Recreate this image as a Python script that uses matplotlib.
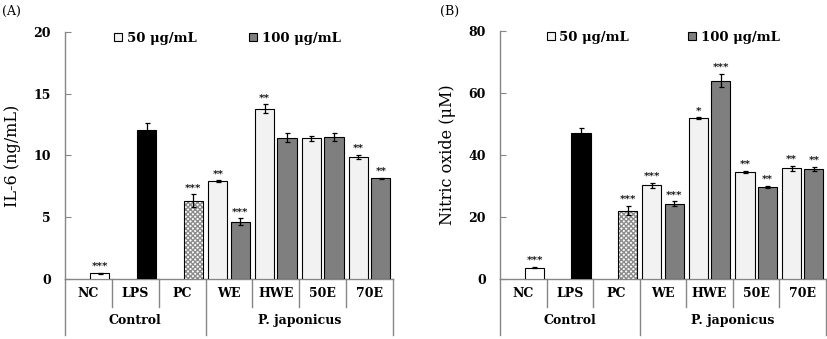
import matplotlib
matplotlib.use('Agg')
import matplotlib.pyplot as plt
from matplotlib.patches import Patch
from matplotlib.transforms import blended_transform_factory

plt.rcParams['font.family'] = ['DejaVu Serif']
plt.rcParams['font.weight'] = 'bold'

# 카테고리
cats = ['NC', 'LPS', 'PC', 'WE', 'HWE', '50E', '70E']
groups = ['Control', 'P. japonicus']

# IL-6 (ng/mL)
il6_ctrl = [0.45, 12.1, 6.35]
il6_ctrl_err = [0.03, 0.55, 0.5]
il6_ctrl_sig = ['***', '', '***']
il6_50 = [7.9, 13.8, 11.4, 9.9]
il6_50_err = [0.08, 0.35, 0.2, 0.15]
il6_50_sig = ['**', '**', '', '**']
il6_100 = [4.65, 11.45, 11.5, 8.15]
il6_100_err = [0.25, 0.35, 0.3, 0.05]
il6_100_sig = ['***', '', '', '**']

# Nitric oxide (uM)
no_ctrl = [3.7, 47.0, 22.0]
no_ctrl_err = [0.2, 1.7, 1.5]
no_ctrl_sig = ['***', '', '***']
no_50 = [30.3, 51.8, 34.5, 35.7]
no_50_err = [0.8, 0.3, 0.3, 0.8]
no_50_sig = ['***', '*', '**', '**']
no_100 = [24.3, 64.0, 29.8, 35.5]
no_100_err = [0.7, 2.1, 0.3, 0.6]
no_100_sig = ['***', '***', '**', '**']

c_light = '#f2f2f2'
c_dark = '#7f7f7f'
c_axis = '#868686'
w = 0.41
off = 0.24


def stars(ax, x, y, e, s):
    if s:
        ax.annotate(s, (x, y + e), xytext=(0, 1.5), textcoords='offset points',
                    ha='center', va='bottom', fontsize=7.5)


def draw(ax, ctrl, ctrl_err, ctrl_sig, v50, e50, s50, v100, e100, s100,
         ymax, step, ylabel, leg_x, colsp):
    ekw = dict(ecolor='black', elinewidth=0.9, capsize=1.8, capthick=0.9)
    # 대조군: 오른쪽 칸에 하나씩
    xs = [i + off for i in range(3)]
    ax.bar(xs[0], ctrl[0], w, yerr=ctrl_err[0], color='white', edgecolor='black', lw=0.8, error_kw=ekw, zorder=3)
    ax.bar(xs[1], ctrl[1], w, yerr=ctrl_err[1], color='black', edgecolor='black', lw=0.8, error_kw=ekw, zorder=3)
    ax.bar(xs[2], ctrl[2], w, color='white', edgecolor='#8c8c8c', hatch='xxxxxxx', lw=0, zorder=3)
    ax.bar(xs[2], ctrl[2], w, yerr=ctrl_err[2], fill=False, edgecolor='black', lw=0.8, error_kw=ekw, zorder=4)
    for i in range(3):
        stars(ax, xs[i], ctrl[i], ctrl_err[i], ctrl_sig[i])

    x50 = [i + 3 - off for i in range(4)]
    x100 = [i + 3 + off for i in range(4)]
    ax.bar(x50, v50, w, yerr=e50, color=c_light, edgecolor='black', lw=0.8, error_kw=ekw, zorder=3)
    ax.bar(x100, v100, w, yerr=e100, color=c_dark, edgecolor='black', lw=0.8, error_kw=ekw, zorder=3)
    for i in range(4):
        stars(ax, x50[i], v50[i], e50[i], s50[i])
        stars(ax, x100[i], v100[i], e100[i], s100[i])

    ax.set_xlim(-0.5, 6.5)
    ax.set_ylim(0, ymax)
    ax.set_yticks(range(0, ymax + 1, step))
    ax.set_xticks([])
    for sp in ['top', 'right']:
        ax.spines[sp].set_visible(False)
    for sp in ['left', 'bottom']:
        ax.spines[sp].set_color(c_axis)
        ax.spines[sp].set_linewidth(1)
    ax.tick_params(axis='y', direction='in', length=4, color=c_axis, labelsize=9, pad=10)
    ax.set_ylabel(ylabel, fontsize=11.5)
    ax.yaxis.set_label_coords(-0.135, 0.5)

    # 아래쪽 표
    tr = blended_transform_factory(ax.transData, ax.transAxes)
    for i in range(8):
        x = i - 0.5
        ybot = -0.227 if i in (0, 3, 7) else -0.113
        ax.plot([x, x], [0, ybot], color=c_axis, lw=1, transform=tr, clip_on=False)
    for i, c in enumerate(cats):
        ax.text(i, -0.058, c, transform=tr, ha='center', va='center', fontsize=9)
    ax.text(1, -0.168, groups[0], transform=tr, ha='center', va='center', fontsize=9)
    ax.text(4.5, -0.168, groups[1], transform=tr, ha='center', va='center', fontsize=9)

    handles = [Patch(facecolor=c_light, edgecolor='black', lw=0.8, label='50 μg/mL'),
               Patch(facecolor=c_dark, edgecolor='black', lw=0.8, label='100 μg/mL')]
    ax.legend(handles=handles, ncol=2, frameon=False, loc='center left',
              bbox_to_anchor=(leg_x, 0.975), handlelength=0.6, handleheight=0.6,
              handletextpad=0.35, columnspacing=colsp, fontsize=9.5, borderaxespad=0, borderpad=0)


fig = plt.figure(figsize=(8.27, 3.39), dpi=100)
axA = fig.add_axes([0.0786, 0.177, 0.3966, 0.7286])
axB = fig.add_axes([0.6046, 0.177, 0.3942, 0.7316])

draw(axA, il6_ctrl, il6_ctrl_err, il6_ctrl_sig, il6_50, il6_50_err, il6_50_sig,
     il6_100, il6_100_err, il6_100_sig, 20, 5, 'IL-6 (ng/mL)', 0.15, 4.0)
draw(axB, no_ctrl, no_ctrl_err, no_ctrl_sig, no_50, no_50_err, no_50_sig,
     no_100, no_100_err, no_100_sig, 80, 20, 'Nitric oxide (μM)', 0.143, 4.5)

fig.text(0.003, 0.955, '(A)', fontsize=9, fontweight='normal')
fig.text(0.532, 0.955, '(B)', fontsize=9, fontweight='normal')

fig.savefig('out.png', dpi=100)
